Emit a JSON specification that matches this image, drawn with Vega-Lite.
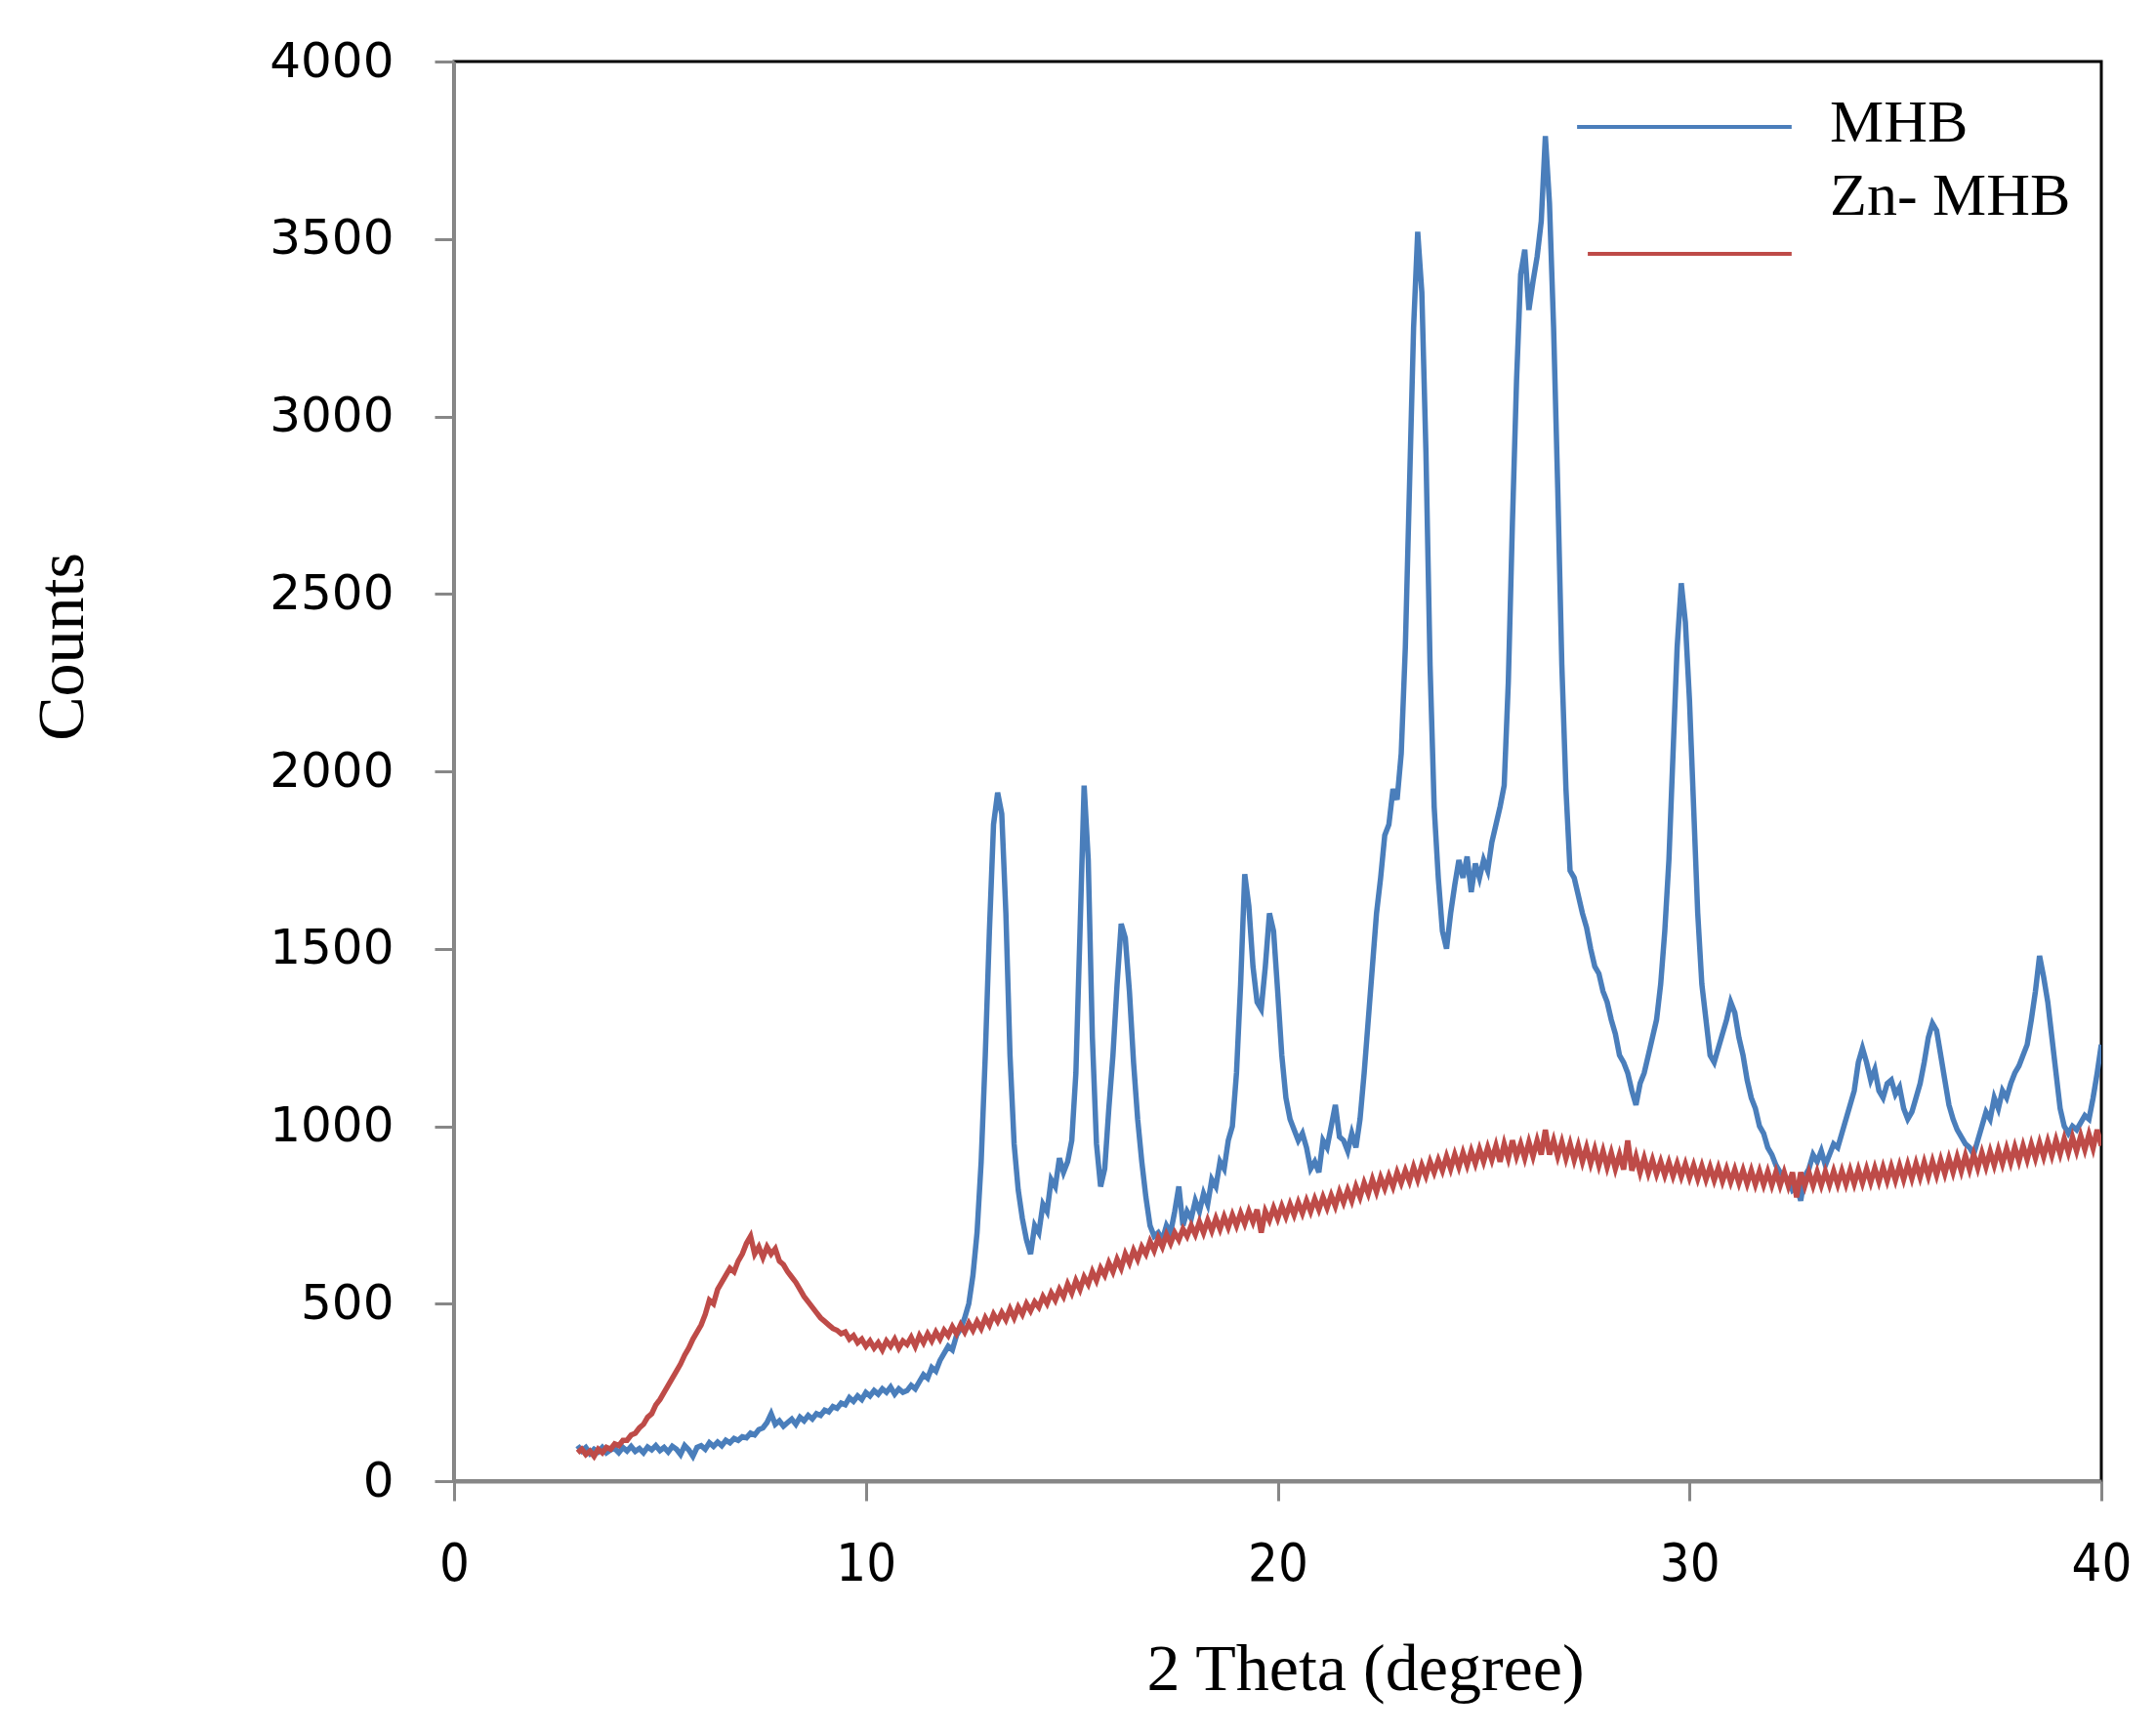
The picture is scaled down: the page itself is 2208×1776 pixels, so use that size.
{
  "$schema": "https://vega.github.io/schema/vega-lite/v6.json",
  "autosize": {"type": "none"},
  "width": 1687,
  "height": 1454,
  "padding": {"left": 465, "top": 63, "right": 56, "bottom": 259},
  "background": "white",
  "config": {
    "view": {"stroke": "#000000", "strokeWidth": 3},
    "axis": {"grid": false, "labelFlush": false, "domainColor": "#878787", "tickColor": "#878787", "tickWidth": 3, "tickSize": 20, "labelColor": "#000000", "titleColor": "#000000", "titleFontWeight": "normal"}
  },
  "datasets": {
    "mhb": [
      {"x":3.0,"y":100},{"x":3.1,"y":85},{"x":3.2,"y":95},{"x":3.3,"y":78},{"x":3.4,"y":90},{"x":3.5,"y":82},{"x":3.6,"y":95},{"x":3.7,"y":80},{"x":3.8,"y":88},{"x":3.9,"y":92},
      {"x":4.0,"y":80},{"x":4.1,"y":95},{"x":4.2,"y":85},{"x":4.3,"y":98},{"x":4.4,"y":84},{"x":4.5,"y":92},{"x":4.6,"y":80},{"x":4.7,"y":96},{"x":4.8,"y":88},{"x":4.9,"y":100},
      {"x":5.0,"y":86},{"x":5.1,"y":95},{"x":5.2,"y":82},{"x":5.3,"y":98},{"x":5.4,"y":90},{"x":5.5,"y":75},{"x":5.6,"y":100},{"x":5.7,"y":88},{"x":5.8,"y":70},{"x":5.9,"y":95},
      {"x":6.0,"y":100},{"x":6.1,"y":90},{"x":6.2,"y":108},{"x":6.3,"y":98},{"x":6.4,"y":110},{"x":6.5,"y":100},{"x":6.6,"y":115},{"x":6.7,"y":108},{"x":6.8,"y":120},{"x":6.9,"y":115},
      {"x":7.0,"y":125},{"x":7.1,"y":122},{"x":7.2,"y":135},{"x":7.3,"y":130},{"x":7.4,"y":145},{"x":7.5,"y":150},{"x":7.6,"y":165},{"x":7.7,"y":190},{"x":7.8,"y":160},{"x":7.9,"y":170},
      {"x":8.0,"y":155},{"x":8.1,"y":165},{"x":8.2,"y":175},{"x":8.3,"y":160},{"x":8.4,"y":180},{"x":8.5,"y":170},{"x":8.6,"y":185},{"x":8.7,"y":175},{"x":8.8,"y":190},{"x":8.9,"y":185},
      {"x":9.0,"y":200},{"x":9.1,"y":195},{"x":9.2,"y":210},{"x":9.3,"y":205},{"x":9.4,"y":220},{"x":9.5,"y":215},{"x":9.6,"y":235},{"x":9.7,"y":225},{"x":9.8,"y":240},{"x":9.9,"y":230},
      {"x":10.0,"y":250},{"x":10.1,"y":240},{"x":10.2,"y":255},{"x":10.3,"y":245},{"x":10.4,"y":260},{"x":10.5,"y":250},{"x":10.6,"y":265},{"x":10.7,"y":245},{"x":10.8,"y":260},{"x":10.9,"y":250},
      {"x":11.0,"y":255},{"x":11.1,"y":270},{"x":11.2,"y":260},{"x":11.3,"y":280},{"x":11.4,"y":300},{"x":11.5,"y":290},{"x":11.6,"y":320},{"x":11.7,"y":310},{"x":11.8,"y":340},{"x":11.9,"y":360},
      {"x":12.0,"y":380},{"x":12.1,"y":370},{"x":12.2,"y":410},{"x":12.3,"y":430},{"x":12.4,"y":460},{"x":12.5,"y":500},{"x":12.6,"y":580},{"x":12.7,"y":700},{"x":12.8,"y":900},{"x":12.9,"y":1200},
      {"x":13.0,"y":1550},{"x":13.1,"y":1850},{"x":13.2,"y":1940},{"x":13.3,"y":1880},{"x":13.4,"y":1600},{"x":13.5,"y":1200},{"x":13.6,"y":950},{"x":13.7,"y":820},{"x":13.8,"y":740},{"x":13.9,"y":680},
      {"x":14.0,"y":640},{"x":14.1,"y":720},{"x":14.2,"y":700},{"x":14.3,"y":780},{"x":14.4,"y":760},{"x":14.5,"y":850},{"x":14.6,"y":830},{"x":14.7,"y":910},{"x":14.8,"y":870},{"x":14.9,"y":900},
      {"x":15.0,"y":960},{"x":15.1,"y":1150},{"x":15.2,"y":1550},{"x":15.3,"y":1960},{"x":15.4,"y":1750},{"x":15.5,"y":1250},{"x":15.6,"y":950},{"x":15.7,"y":830},{"x":15.8,"y":880},{"x":15.9,"y":1050},
      {"x":16.0,"y":1200},{"x":16.1,"y":1400},{"x":16.2,"y":1570},{"x":16.3,"y":1530},{"x":16.4,"y":1380},{"x":16.5,"y":1180},{"x":16.6,"y":1020},{"x":16.7,"y":900},{"x":16.8,"y":800},{"x":16.9,"y":720},
      {"x":17.0,"y":690},{"x":17.1,"y":700},{"x":17.2,"y":680},{"x":17.3,"y":720},{"x":17.4,"y":700},{"x":17.5,"y":760},{"x":17.6,"y":830},{"x":17.7,"y":720},{"x":17.8,"y":760},{"x":17.9,"y":740},
      {"x":18.0,"y":790},{"x":18.1,"y":760},{"x":18.2,"y":810},{"x":18.3,"y":780},{"x":18.4,"y":850},{"x":18.5,"y":830},{"x":18.6,"y":900},{"x":18.7,"y":880},{"x":18.8,"y":960},{"x":18.9,"y":1000},
      {"x":19.0,"y":1150},{"x":19.1,"y":1400},{"x":19.2,"y":1710},{"x":19.3,"y":1620},{"x":19.4,"y":1450},{"x":19.5,"y":1350},{"x":19.6,"y":1330},{"x":19.7,"y":1450},{"x":19.8,"y":1600},{"x":19.9,"y":1550},
      {"x":20.0,"y":1380},{"x":20.1,"y":1200},{"x":20.2,"y":1080},{"x":20.3,"y":1020},{"x":20.4,"y":990},{"x":20.5,"y":960},{"x":20.6,"y":980},{"x":20.7,"y":940},{"x":20.8,"y":880},{"x":20.9,"y":900},
      {"x":21.0,"y":870},{"x":21.1,"y":960},{"x":21.2,"y":940},{"x":21.3,"y":1000},{"x":21.4,"y":1060},{"x":21.5,"y":970},{"x":21.6,"y":960},{"x":21.7,"y":930},{"x":21.8,"y":980},{"x":21.9,"y":940},
      {"x":22.0,"y":1020},{"x":22.1,"y":1150},{"x":22.2,"y":1300},{"x":22.3,"y":1450},{"x":22.4,"y":1600},{"x":22.5,"y":1700},{"x":22.6,"y":1820},{"x":22.7,"y":1850},{"x":22.8,"y":1950},{"x":22.9,"y":1920},
      {"x":23.0,"y":2050},{"x":23.1,"y":2350},{"x":23.2,"y":2800},{"x":23.3,"y":3250},{"x":23.4,"y":3520},{"x":23.5,"y":3350},{"x":23.6,"y":2900},{"x":23.7,"y":2300},{"x":23.8,"y":1900},{"x":23.9,"y":1700},
      {"x":24.0,"y":1550},{"x":24.1,"y":1500},{"x":24.2,"y":1600},{"x":24.3,"y":1680},{"x":24.4,"y":1750},{"x":24.5,"y":1700},{"x":24.6,"y":1760},{"x":24.7,"y":1660},{"x":24.8,"y":1740},{"x":24.9,"y":1700},
      {"x":25.0,"y":1750},{"x":25.1,"y":1720},{"x":25.2,"y":1800},{"x":25.3,"y":1850},{"x":25.4,"y":1900},{"x":25.5,"y":1960},{"x":25.6,"y":2250},{"x":25.7,"y":2700},{"x":25.8,"y":3100},{"x":25.9,"y":3400},
      {"x":26.0,"y":3470},{"x":26.1,"y":3300},{"x":26.2,"y":3380},{"x":26.3,"y":3450},{"x":26.4,"y":3550},{"x":26.5,"y":3790},{"x":26.6,"y":3600},{"x":26.7,"y":3250},{"x":26.8,"y":2800},{"x":26.9,"y":2300},
      {"x":27.0,"y":1950},{"x":27.1,"y":1720},{"x":27.2,"y":1700},{"x":27.3,"y":1650},{"x":27.4,"y":1600},{"x":27.5,"y":1560},{"x":27.6,"y":1500},{"x":27.7,"y":1450},{"x":27.8,"y":1430},{"x":27.9,"y":1380},
      {"x":28.0,"y":1350},{"x":28.1,"y":1300},{"x":28.2,"y":1260},{"x":28.3,"y":1200},{"x":28.4,"y":1180},{"x":28.5,"y":1150},{"x":28.6,"y":1100},{"x":28.7,"y":1060},{"x":28.8,"y":1120},{"x":28.9,"y":1150},
      {"x":29.0,"y":1200},{"x":29.1,"y":1250},{"x":29.2,"y":1300},{"x":29.3,"y":1400},{"x":29.4,"y":1550},{"x":29.5,"y":1750},{"x":29.6,"y":2050},{"x":29.7,"y":2350},{"x":29.8,"y":2530},{"x":29.9,"y":2420},
      {"x":30.0,"y":2200},{"x":30.1,"y":1900},{"x":30.2,"y":1600},{"x":30.3,"y":1400},{"x":30.4,"y":1300},{"x":30.5,"y":1200},{"x":30.6,"y":1180},{"x":30.7,"y":1220},{"x":30.8,"y":1260},{"x":30.9,"y":1300},
      {"x":31.0,"y":1350},{"x":31.1,"y":1320},{"x":31.2,"y":1250},{"x":31.3,"y":1200},{"x":31.4,"y":1130},{"x":31.5,"y":1080},{"x":31.6,"y":1050},{"x":31.7,"y":1000},{"x":31.8,"y":980},{"x":31.9,"y":940},
      {"x":32.0,"y":920},{"x":32.1,"y":890},{"x":32.2,"y":870},{"x":32.3,"y":860},{"x":32.4,"y":850},{"x":32.5,"y":820},{"x":32.6,"y":830},{"x":32.7,"y":790},{"x":32.8,"y":860},{"x":32.9,"y":880},
      {"x":33.0,"y":920},{"x":33.1,"y":900},{"x":33.2,"y":930},{"x":33.3,"y":890},{"x":33.4,"y":920},{"x":33.5,"y":950},{"x":33.6,"y":940},{"x":33.7,"y":980},{"x":33.8,"y":1020},{"x":33.9,"y":1060},
      {"x":34.0,"y":1100},{"x":34.1,"y":1180},{"x":34.2,"y":1220},{"x":34.3,"y":1180},{"x":34.4,"y":1130},{"x":34.5,"y":1160},{"x":34.6,"y":1100},{"x":34.7,"y":1080},{"x":34.8,"y":1120},{"x":34.9,"y":1130},
      {"x":35.0,"y":1090},{"x":35.1,"y":1110},{"x":35.2,"y":1050},{"x":35.3,"y":1020},{"x":35.4,"y":1040},{"x":35.5,"y":1080},{"x":35.6,"y":1120},{"x":35.7,"y":1180},{"x":35.8,"y":1250},{"x":35.9,"y":1290},
      {"x":36.0,"y":1270},{"x":36.1,"y":1200},{"x":36.2,"y":1130},{"x":36.3,"y":1060},{"x":36.4,"y":1020},{"x":36.5,"y":990},{"x":36.6,"y":970},{"x":36.7,"y":950},{"x":36.8,"y":940},{"x":36.9,"y":920},
      {"x":37.0,"y":960},{"x":37.1,"y":1000},{"x":37.2,"y":1040},{"x":37.3,"y":1020},{"x":37.4,"y":1080},{"x":37.5,"y":1050},{"x":37.6,"y":1100},{"x":37.7,"y":1080},{"x":37.8,"y":1120},{"x":37.9,"y":1150},
      {"x":38.0,"y":1170},{"x":38.1,"y":1200},{"x":38.2,"y":1230},{"x":38.3,"y":1300},{"x":38.4,"y":1380},{"x":38.5,"y":1480},{"x":38.6,"y":1420},{"x":38.7,"y":1350},{"x":38.8,"y":1250},{"x":38.9,"y":1150},
      {"x":39.0,"y":1050},{"x":39.1,"y":1000},{"x":39.2,"y":980},{"x":39.3,"y":1000},{"x":39.4,"y":990},{"x":39.5,"y":1010},{"x":39.6,"y":1030},{"x":39.7,"y":1020},{"x":39.8,"y":1080},{"x":39.9,"y":1150},
      {"x":40.0,"y":1230}
    ],
    "zn": [
      {"x":3.0,"y":80},{"x":3.1,"y":90},{"x":3.2,"y":75},{"x":3.3,"y":85},{"x":3.4,"y":70},{"x":3.5,"y":90},{"x":3.6,"y":80},{"x":3.7,"y":95},{"x":3.8,"y":90},{"x":3.9,"y":105},
      {"x":4.0,"y":100},{"x":4.1,"y":115},{"x":4.2,"y":115},{"x":4.3,"y":130},{"x":4.4,"y":135},{"x":4.5,"y":150},{"x":4.6,"y":160},{"x":4.7,"y":180},{"x":4.8,"y":190},{"x":4.9,"y":215},
      {"x":5.0,"y":230},{"x":5.1,"y":250},{"x":5.2,"y":270},{"x":5.3,"y":290},{"x":5.4,"y":310},{"x":5.5,"y":330},{"x":5.6,"y":355},{"x":5.7,"y":375},{"x":5.8,"y":400},{"x":5.9,"y":420},
      {"x":6.0,"y":440},{"x":6.1,"y":470},{"x":6.2,"y":510},{"x":6.3,"y":500},{"x":6.4,"y":540},{"x":6.5,"y":560},{"x":6.6,"y":580},{"x":6.7,"y":600},{"x":6.8,"y":590},{"x":6.9,"y":620},
      {"x":7.0,"y":640},{"x":7.1,"y":670},{"x":7.2,"y":690},{"x":7.3,"y":640},{"x":7.4,"y":660},{"x":7.5,"y":630},{"x":7.6,"y":660},{"x":7.7,"y":640},{"x":7.8,"y":655},{"x":7.9,"y":620},
      {"x":8.0,"y":610},{"x":8.1,"y":590},{"x":8.2,"y":575},{"x":8.3,"y":560},{"x":8.4,"y":540},{"x":8.5,"y":520},{"x":8.6,"y":505},{"x":8.7,"y":490},{"x":8.8,"y":475},{"x":8.9,"y":460},
      {"x":9.0,"y":450},{"x":9.1,"y":440},{"x":9.2,"y":430},{"x":9.3,"y":425},{"x":9.4,"y":415},{"x":9.5,"y":420},{"x":9.6,"y":400},{"x":9.7,"y":410},{"x":9.8,"y":390},{"x":9.9,"y":400},
      {"x":10.0,"y":380},{"x":10.1,"y":395},{"x":10.2,"y":375},{"x":10.3,"y":390},{"x":10.4,"y":370},{"x":10.5,"y":395},{"x":10.6,"y":380},{"x":10.7,"y":400},{"x":10.8,"y":375},{"x":10.9,"y":395},
      {"x":11.0,"y":385},{"x":11.1,"y":405},{"x":11.2,"y":380},{"x":11.3,"y":410},{"x":11.4,"y":390},{"x":11.5,"y":415},{"x":11.6,"y":395},{"x":11.7,"y":420},{"x":11.8,"y":400},{"x":11.9,"y":425},
      {"x":12.0,"y":410},{"x":12.1,"y":435},{"x":12.2,"y":415},{"x":12.3,"y":440},{"x":12.4,"y":420},{"x":12.5,"y":445},{"x":12.6,"y":425},{"x":12.7,"y":450},{"x":12.8,"y":430},{"x":12.9,"y":460},
      {"x":13.0,"y":440},{"x":13.1,"y":470},{"x":13.2,"y":450},{"x":13.3,"y":475},{"x":13.4,"y":455},{"x":13.5,"y":485},{"x":13.6,"y":460},{"x":13.7,"y":490},{"x":13.8,"y":470},{"x":13.9,"y":500},
      {"x":14.0,"y":480},{"x":14.1,"y":505},{"x":14.2,"y":490},{"x":14.3,"y":520},{"x":14.4,"y":500},{"x":14.5,"y":530},{"x":14.6,"y":510},{"x":14.7,"y":540},{"x":14.8,"y":520},{"x":14.9,"y":555},
      {"x":15.0,"y":530},{"x":15.1,"y":565},{"x":15.2,"y":540},{"x":15.3,"y":575},{"x":15.4,"y":555},{"x":15.5,"y":590},{"x":15.6,"y":565},{"x":15.7,"y":600},{"x":15.8,"y":580},{"x":15.9,"y":615},
      {"x":16.0,"y":590},{"x":16.1,"y":625},{"x":16.2,"y":600},{"x":16.3,"y":640},{"x":16.4,"y":615},{"x":16.5,"y":650},{"x":16.6,"y":625},{"x":16.7,"y":660},{"x":16.8,"y":640},{"x":16.9,"y":675},
      {"x":17.0,"y":650},{"x":17.1,"y":685},{"x":17.2,"y":660},{"x":17.3,"y":695},{"x":17.4,"y":670},{"x":17.5,"y":700},{"x":17.6,"y":680},{"x":17.7,"y":710},{"x":17.8,"y":690},{"x":17.9,"y":720},
      {"x":18.0,"y":695},{"x":18.1,"y":730},{"x":18.2,"y":700},{"x":18.3,"y":735},{"x":18.4,"y":705},{"x":18.5,"y":740},{"x":18.6,"y":710},{"x":18.7,"y":745},{"x":18.8,"y":715},{"x":18.9,"y":750},
      {"x":19.0,"y":720},{"x":19.1,"y":755},{"x":19.2,"y":725},{"x":19.3,"y":760},{"x":19.4,"y":730},{"x":19.5,"y":765},{"x":19.6,"y":700},{"x":19.7,"y":760},{"x":19.8,"y":735},{"x":19.9,"y":770},
      {"x":20.0,"y":740},{"x":20.1,"y":775},{"x":20.2,"y":745},{"x":20.3,"y":780},{"x":20.4,"y":750},{"x":20.5,"y":785},{"x":20.6,"y":755},{"x":20.7,"y":790},{"x":20.8,"y":760},{"x":20.9,"y":795},
      {"x":21.0,"y":765},{"x":21.1,"y":800},{"x":21.2,"y":770},{"x":21.3,"y":805},{"x":21.4,"y":775},{"x":21.5,"y":815},{"x":21.6,"y":785},{"x":21.7,"y":820},{"x":21.8,"y":790},{"x":21.9,"y":830},
      {"x":22.0,"y":800},{"x":22.1,"y":840},{"x":22.2,"y":810},{"x":22.3,"y":850},{"x":22.4,"y":815},{"x":22.5,"y":855},{"x":22.6,"y":825},{"x":22.7,"y":860},{"x":22.8,"y":830},{"x":22.9,"y":870},
      {"x":23.0,"y":840},{"x":23.1,"y":875},{"x":23.2,"y":845},{"x":23.3,"y":885},{"x":23.4,"y":850},{"x":23.5,"y":890},{"x":23.6,"y":860},{"x":23.7,"y":900},{"x":23.8,"y":870},{"x":23.9,"y":905},
      {"x":24.0,"y":875},{"x":24.1,"y":915},{"x":24.2,"y":880},{"x":24.3,"y":920},{"x":24.4,"y":885},{"x":24.5,"y":925},{"x":24.6,"y":890},{"x":24.7,"y":930},{"x":24.8,"y":895},{"x":24.9,"y":935},
      {"x":25.0,"y":900},{"x":25.1,"y":940},{"x":25.2,"y":905},{"x":25.3,"y":945},{"x":25.4,"y":900},{"x":25.5,"y":950},{"x":25.6,"y":910},{"x":25.7,"y":960},{"x":25.8,"y":915},{"x":25.9,"y":950},
      {"x":26.0,"y":910},{"x":26.1,"y":955},{"x":26.2,"y":915},{"x":26.3,"y":960},{"x":26.4,"y":920},{"x":26.5,"y":990},{"x":26.6,"y":920},{"x":26.7,"y":960},{"x":26.8,"y":915},{"x":26.9,"y":955},
      {"x":27.0,"y":910},{"x":27.1,"y":950},{"x":27.2,"y":905},{"x":27.3,"y":945},{"x":27.4,"y":900},{"x":27.5,"y":940},{"x":27.6,"y":895},{"x":27.7,"y":935},{"x":27.8,"y":890},{"x":27.9,"y":930},
      {"x":28.0,"y":885},{"x":28.1,"y":925},{"x":28.2,"y":880},{"x":28.3,"y":920},{"x":28.4,"y":878},{"x":28.5,"y":960},{"x":28.6,"y":875},{"x":28.7,"y":915},{"x":28.8,"y":870},{"x":28.9,"y":910},
      {"x":29.0,"y":868},{"x":29.1,"y":905},{"x":29.2,"y":865},{"x":29.3,"y":900},{"x":29.4,"y":862},{"x":29.5,"y":898},{"x":29.6,"y":860},{"x":29.7,"y":895},{"x":29.8,"y":858},{"x":29.9,"y":893},
      {"x":30.0,"y":855},{"x":30.1,"y":890},{"x":30.2,"y":852},{"x":30.3,"y":888},{"x":30.4,"y":850},{"x":30.5,"y":885},{"x":30.6,"y":848},{"x":30.7,"y":883},{"x":30.8,"y":845},{"x":30.9,"y":880},
      {"x":31.0,"y":843},{"x":31.1,"y":878},{"x":31.2,"y":840},{"x":31.3,"y":876},{"x":31.4,"y":838},{"x":31.5,"y":875},{"x":31.6,"y":836},{"x":31.7,"y":873},{"x":31.8,"y":835},{"x":31.9,"y":872},
      {"x":32.0,"y":834},{"x":32.1,"y":871},{"x":32.2,"y":833},{"x":32.3,"y":870},{"x":32.4,"y":832},{"x":32.5,"y":870},{"x":32.6,"y":800},{"x":32.7,"y":870},{"x":32.8,"y":832},{"x":32.9,"y":870},
      {"x":33.0,"y":833},{"x":33.1,"y":871},{"x":33.2,"y":834},{"x":33.3,"y":872},{"x":33.4,"y":835},{"x":33.5,"y":873},{"x":33.6,"y":836},{"x":33.7,"y":874},{"x":33.8,"y":837},{"x":33.9,"y":876},
      {"x":34.0,"y":838},{"x":34.1,"y":878},{"x":34.2,"y":840},{"x":34.3,"y":880},{"x":34.4,"y":842},{"x":34.5,"y":882},{"x":34.6,"y":844},{"x":34.7,"y":884},{"x":34.8,"y":846},{"x":34.9,"y":886},
      {"x":35.0,"y":848},{"x":35.1,"y":889},{"x":35.2,"y":850},{"x":35.3,"y":892},{"x":35.4,"y":853},{"x":35.5,"y":895},{"x":35.6,"y":856},{"x":35.7,"y":898},{"x":35.8,"y":859},{"x":35.9,"y":901},
      {"x":36.0,"y":862},{"x":36.1,"y":905},{"x":36.2,"y":866},{"x":36.3,"y":909},{"x":36.4,"y":870},{"x":36.5,"y":913},{"x":36.6,"y":874},{"x":36.7,"y":917},{"x":36.8,"y":878},{"x":36.9,"y":921},
      {"x":37.0,"y":882},{"x":37.1,"y":925},{"x":37.2,"y":886},{"x":37.3,"y":929},{"x":37.4,"y":890},{"x":37.5,"y":933},{"x":37.6,"y":894},{"x":37.7,"y":937},{"x":37.8,"y":898},{"x":37.9,"y":941},
      {"x":38.0,"y":902},{"x":38.1,"y":945},{"x":38.2,"y":906},{"x":38.3,"y":949},{"x":38.4,"y":910},{"x":38.5,"y":953},{"x":38.6,"y":914},{"x":38.7,"y":957},{"x":38.8,"y":918},{"x":38.9,"y":961},
      {"x":39.0,"y":922},{"x":39.1,"y":965},{"x":39.2,"y":926},{"x":39.3,"y":969},{"x":39.4,"y":930},{"x":39.5,"y":973},{"x":39.6,"y":934},{"x":39.7,"y":977},{"x":39.8,"y":938},{"x":39.9,"y":990},
      {"x":40.0,"y":945}
    ],
    "one": [{}]
  },
  "layer": [
    {
      "data": {"name": "mhb"},
      "mark": {"type": "line", "color": "#4a7ebb", "strokeWidth": 5.5, "clip": true},
      "encoding": {
        "x": {"field": "x", "type": "quantitative", "scale": {"domain": [0, 40], "nice": false, "zero": false},
          "axis": {"values": [0, 10, 20, 30, 40], "title": "2 Theta (degree)", "domainWidth": 4,
            "labelFont": "DejaVu Sans Condensed, Liberation Sans Narrow, Liberation Sans", "labelFontSize": 54, "labelPadding": 38,
            "titleFont": "Liberation Serif", "titleFontSize": 68, "titleX": 933, "titleY": 213, "titleBaseline": "alphabetic", "titleAlign": "center"}},
        "y": {"field": "y", "type": "quantitative", "scale": {"domain": [0, 4000], "nice": false},
          "axis": {"values": [0, 500, 1000, 1500, 2000, 2500, 3000, 3500, 4000], "format": "d", "title": "Counts", "domainWidth": 3,
            "labelFont": "DejaVu Sans", "labelFontSize": 50, "labelPadding": 42,
            "titleFont": "Liberation Serif", "titleFontSize": 68, "titleX": -381, "titleY": 599, "titleBaseline": "alphabetic", "titleAlign": "center", "titleAngle": -90}}
      }
    },
    {
      "data": {"name": "zn"},
      "mark": {"type": "line", "color": "#be4b48", "strokeWidth": 5.5, "clip": true},
      "encoding": {
        "x": {"field": "x", "type": "quantitative"},
        "y": {"field": "y", "type": "quantitative"}
      }
    },
    {
      "data": {"name": "one"},
      "mark": {"type": "rule", "color": "#4a7ebb", "strokeWidth": 4},
      "encoding": {
        "x": {"datum": 27.27, "type": "quantitative"},
        "x2": {"datum": 32.48},
        "y": {"datum": 3816, "type": "quantitative"}
      }
    },
    {
      "data": {"name": "one"},
      "mark": {"type": "rule", "color": "#be4b48", "strokeWidth": 4},
      "encoding": {
        "x": {"datum": 27.53, "type": "quantitative"},
        "x2": {"datum": 32.48},
        "y": {"datum": 3458, "type": "quantitative"}
      }
    },
    {
      "data": {"name": "one"},
      "mark": {"type": "text", "text": "MHB", "font": "Liberation Serif", "fontSize": 62, "align": "left", "baseline": "alphabetic", "color": "#000000"},
      "encoding": {
        "x": {"datum": 33.41, "type": "quantitative"},
        "y": {"datum": 3774, "type": "quantitative"}
      }
    },
    {
      "data": {"name": "one"},
      "mark": {"type": "text", "text": "Zn- MHB", "font": "Liberation Serif", "fontSize": 62, "align": "left", "baseline": "alphabetic", "color": "#000000"},
      "encoding": {
        "x": {"datum": 33.41, "type": "quantitative"},
        "y": {"datum": 3568, "type": "quantitative"}
      }
    }
  ]
}
